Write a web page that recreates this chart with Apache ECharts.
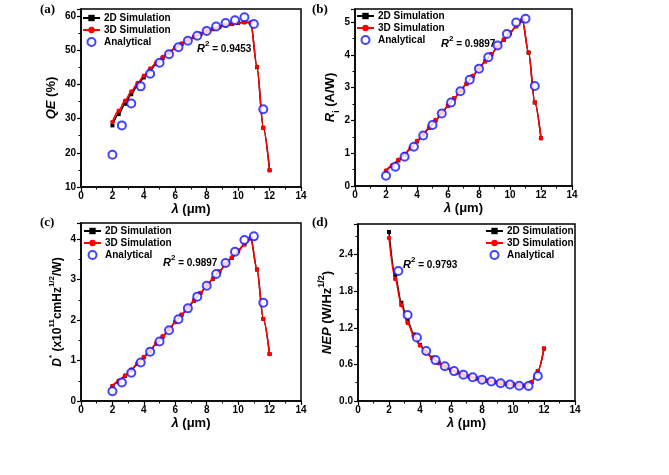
<!DOCTYPE html>
<html><head><meta charset="utf-8">
<script src="https://cdn.jsdelivr.net/npm/echarts@6/dist/echarts.min.js"></script>
<style>html,body{margin:0;padding:0;background:#fff}#c{width:669px;height:475px}</style>
</head><body><div id="c"></div>
<script>
// ---- data ----
const simWavelength = [2.0,2.4,2.8,3.2,3.6,4.0,4.4,4.8,5.2,5.6,6.0,6.4,6.8,7.2,7.6,8.0,8.4,8.8,9.2,9.6,10.0,10.4,10.8,11.2,11.6,12.0];
const anaWavelength = [2.0,2.6,3.2,3.8,4.4,5.0,5.6,6.2,6.8,7.4,8.0,8.6,9.2,9.8,10.4,11.0,11.6];
const nepAnaWavelength = [2.6,3.2,3.8,4.4,5.0,5.6,6.2,6.8,7.4,8.0,8.6,9.2,9.8,10.4,11.0,11.6];

const qe2D = [28.0,31.3,34.3,37.1,39.7,42.0,44.1,46.0,47.7,49.2,50.6,51.8,52.8,53.8,54.7,55.5,56.1,56.7,57.2,57.6,57.9,58.1,58.0,45.0,27.3,14.9];
const qe3D = [29.0,32.3,35.2,37.9,40.4,42.5,44.6,46.4,48.0,49.4,50.7,51.9,52.9,53.9,54.8,55.6,56.2,56.8,57.3,57.7,58.0,58.2,58.0,45.1,27.3,14.9];
const qeAna = [19.4,28.0,34.4,39.4,43.1,46.3,48.8,50.8,52.7,54.2,55.6,56.9,57.9,58.7,59.6,57.6,32.7];

const r2D = [0.45,0.61,0.78,0.96,1.15,1.36,1.57,1.78,2.00,2.22,2.45,2.67,2.90,3.12,3.35,3.58,3.80,4.02,4.24,4.46,4.67,4.87,5.05,4.07,2.55,1.46];
const r3D = [0.47,0.63,0.80,0.98,1.17,1.37,1.58,1.80,2.01,2.23,2.45,2.68,2.90,3.13,3.36,3.59,3.81,4.03,4.25,4.47,4.68,4.88,5.05,4.07,2.55,1.46];
const rAna = [0.31,0.59,0.89,1.20,1.54,1.86,2.21,2.55,2.89,3.24,3.58,3.93,4.29,4.64,4.99,5.10,3.05];

const d2D = [0.36,0.48,0.62,0.76,0.92,1.08,1.24,1.42,1.59,1.77,1.95,2.13,2.30,2.48,2.67,2.85,3.02,3.20,3.37,3.54,3.71,3.87,4.02,3.25,2.03,1.16];
const d3D = [0.37,0.50,0.63,0.78,0.93,1.09,1.26,1.43,1.60,1.77,1.95,2.13,2.31,2.49,2.67,2.85,3.03,3.20,3.38,3.55,3.72,3.88,4.02,3.25,2.03,1.16];
const dAna = [0.24,0.46,0.70,0.95,1.22,1.47,1.75,2.02,2.29,2.58,2.85,3.14,3.41,3.69,3.98,4.07,2.43];

const nep2D = [2.77,2.06,1.61,1.31,1.09,0.92,0.80,0.71,0.63,0.56,0.51,0.47,0.43,0.40,0.37,0.35,0.33,0.31,0.29,0.28,0.27,0.26,0.25,0.31,0.49,0.86];
const nep3D = [2.67,2.00,1.57,1.28,1.07,0.91,0.79,0.70,0.62,0.56,0.51,0.47,0.43,0.40,0.37,0.35,0.33,0.31,0.29,0.28,0.27,0.26,0.25,0.31,0.49,0.86];
const nepAna = [2.13,1.41,1.04,0.82,0.67,0.57,0.49,0.43,0.39,0.35,0.32,0.29,0.27,0.25,0.245,0.41];

const seriesNames = ['2D Simulation','3D Simulation','Analytical'];
const r2Labels = ['0.9453','0.9897','0.9897','0.9793'];
const panelLabels = ['(a)','(b)','(c)','(d)'];

// ---- chart ----
const F = 'Liberation Sans, Arial, sans-serif';
const BLUE = '#1414ff';
const zip = (xs, ys) => xs.map((x, i) => [x, ys[i]]);
const chart = echarts.init(document.getElementById('c'), null, {renderer:'canvas'});

const grids = [
  {left:81, top:9, width:220, height:178},
  {left:355, top:9, width:217, height:177},
  {left:81, top:223, width:220, height:178},
  {left:358, top:224, width:217, height:177}
].map(g => Object.assign(g, {show:true, borderColor:'#000', borderWidth:1.5, backgroundColor:'transparent'}));

function makeRich(fs, sfs){
  return {
    i:{fontFamily:F, fontWeight:'bold', fontStyle:'italic', fontSize:fs, lineHeight:20, color:'#000'},
    n:{fontFamily:F, fontWeight:'bold', fontSize:fs, lineHeight:20, color:'#000'},
    sup:{fontFamily:F, fontWeight:'bold', fontSize:sfs, lineHeight:sfs, verticalAlign:'top', color:'#000'},
    sub:{fontFamily:F, fontWeight:'bold', fontSize:sfs, lineHeight:sfs, verticalAlign:'bottom', color:'#000'}
  };
}

function xAx(gi){
  return {gridIndex:gi, type:'value', min:0, max:14, interval:2,
    name:'{i|λ} {n|(μm)}', nameLocation:'middle', nameGap:12,
    nameTextStyle:{fontFamily:F, fontWeight:'bold', fontSize:13, color:'#000', rich:makeRich(13, 9)},
    axisLine:{show:true, onZero:false, lineStyle:{color:'#000', width:1.5}},
    axisTick:{show:true, length:4, lineStyle:{color:'#000', width:1.2}},
    minorTick:{show:true, splitNumber:2, length:2.5, lineStyle:{color:'#000', width:1}},
    axisLabel:{color:'#000', fontWeight:'bold', fontSize:10, fontFamily:F, margin:4},
    splitLine:{show:false}};
}
function yAx(gi, min, max, interval, name, gap, digits, fs, sfs){
  return {gridIndex:gi, type:'value', min, max, interval,
    name, nameLocation:'middle', nameGap:gap, nameRotate:90,
    nameTextStyle:{fontFamily:F, fontWeight:'bold', fontSize:fs, color:'#000', rich:makeRich(fs, sfs)},
    axisLine:{show:true, onZero:false, lineStyle:{color:'#000', width:1.5}},
    axisTick:{show:true, length:4, lineStyle:{color:'#000', width:1.2}},
    minorTick:{show:true, splitNumber:2, length:2.5, lineStyle:{color:'#000', width:1}},
    axisLabel:{color:'#000', fontWeight:'bold', fontSize:10, fontFamily:F, margin:5,
      formatter: v => { const k = v / interval; return Math.abs(k - Math.round(k)) > 1e-6 ? '' : v.toFixed(digits); }},
    splitLine:{show:false}};
}

const yAxes = [
  yAx(0, 10, 62, 10, '{i|QE} {n|(%)}', 20, 0, 13, 9),
  yAx(1, 0, 5.4, 1, '{i|R}{sub|i} {n|(A/W)}', 14, 0, 13, 9),
  yAx(2, 0, 4.4, 1, '{i|D}{sup|*} {n|(x10}{sup|11}{n|cmHz}{sup|1/2}{n|/W)}', 13, 0, 12, 8),
  yAx(3, 0, 2.9, 0.6, '{i|NEP} {n|(W/Hz}{sup|1/2}{n|)}', 21, 1, 13, 9)
];

const panels = [
  [qe2D, qe3D, anaWavelength, qeAna],
  [r2D, r3D, anaWavelength, rAna],
  [d2D, d3D, anaWavelength, dAna],
  [nep2D, nep3D, nepAnaWavelength, nepAna]
];

const series = [];
panels.forEach((p, gi) => {
  series.push({name:seriesNames[0], type:'line', xAxisIndex:gi, yAxisIndex:gi, data:zip(simWavelength, p[0]),
    symbol:'rect', symbolSize:4, smooth:0.3, smoothMonotone:'x',
    lineStyle:{color:'#000', width:1.5}, itemStyle:{color:'#000'}, z:2});
  series.push({name:seriesNames[1], type:'line', xAxisIndex:gi, yAxisIndex:gi, data:zip(simWavelength, p[1]),
    symbol:'circle', symbolSize:4.5, smooth:0.3, smoothMonotone:'x',
    lineStyle:{color:'#ff0000', width:1.6}, itemStyle:{color:'#ff0000'}, z:3});
  series.push({name:seriesNames[2], type:'scatter', xAxisIndex:gi, yAxisIndex:gi, data:zip(p[2], p[3]),
    symbol:'emptyCircle', symbolSize:8,
    itemStyle:{color:BLUE, borderWidth:1.5}, z:4});
});

function legend(left, top){
  return {left, top, orient:'vertical', itemGap:0, itemWidth:17, itemHeight:8, padding:0,
    selectedMode:false, textStyle:{fontFamily:F, fontWeight:'bold', fontSize:10, lineHeight:12, color:'#000', padding:[0,0,0,-1]},
    data:seriesNames};
}

const graphic = [];
const plPos = [[40,3],[312,3],[40,216],[312,216]];
panelLabels.forEach((t, i) => graphic.push({type:'text', left:plPos[i][0], top:plPos[i][1],
  style:{text:t, font:'bold 13px "Liberation Serif", "Times New Roman", serif', fill:'#000'}}));
const r2Pos = [[197,40],[441,35],[163,254],[403,256]];
const r2Rich = {
  r:{fontFamily:F, fontWeight:'bold', fontStyle:'italic', fontSize:11, lineHeight:18, fill:'#000', color:'#000'},
  s:{fontFamily:F, fontWeight:'bold', fontSize:8, lineHeight:8, verticalAlign:'top', fill:'#000', color:'#000'},
  t:{fontFamily:F, fontWeight:'bold', fontSize:10, lineHeight:18, fill:'#000', color:'#000'}
};
r2Labels.forEach((v, i) => graphic.push({type:'text', left:r2Pos[i][0], top:r2Pos[i][1],
  style:{text:'{r|R}{s|2}{t| = ' + v + '}', rich:r2Rich}}));

chart.setOption({
  animation:false,
  backgroundColor:'#fff',
  grid:grids,
  xAxis:[0,1,2,3].map(xAx),
  yAxis:yAxes,
  legend:[legend(82,12), legend(356,10), legend(83,225), legend(485,225)],
  graphic,
  series
});
</script></body></html>
